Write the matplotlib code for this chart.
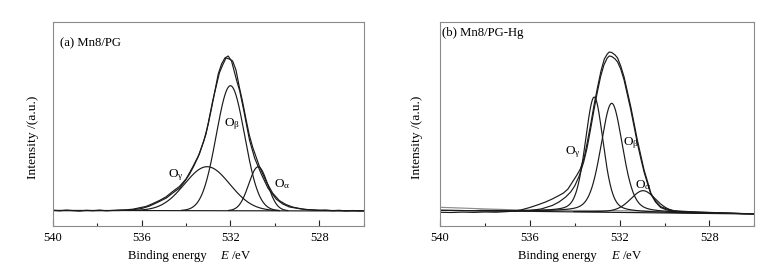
import numpy as np
import matplotlib
matplotlib.use("Agg")
import matplotlib.pyplot as plt

plt.rcParams['font.family'] = ['Liberation Serif', 'DejaVu Serif']
plt.rcParams['mathtext.fontset'] = 'custom'
plt.rcParams['mathtext.rm'] = 'Liberation Serif'
plt.rcParams['mathtext.it'] = 'Liberation Serif:italic'

# ---------------- data (a) Mn8/PG ----------------
a_title = "(a) Mn8/PG"
a_peak_labels = ["O$_{\\mathrm{γ}}$", "O$_{\\mathrm{β}}$", "O$_{\\mathrm{α}}$"]
a_peak_center = [533.05, 532.0, 530.75]
a_peak_height = [44, 125, 44]
a_peak_fwhm = [2.4, 1.5, 1.0]
a_peak_eta = [0.0, 0.0, 0.0]

a_fit_E = [540, 538, 537, 536.5, 536, 535.64, 535.3, 534.89, 534.6, 534.29, 534.05, 533.84,
           533.65, 533.46, 533.2, 533.0, 532.85, 532.7, 532.55, 532.4, 532.25, 532.1, 531.95,
           531.82, 531.7, 531.58, 531.43, 531.29, 531.14, 530.91, 530.61, 530.31, 529.94,
           529.64, 529.34, 528.8, 528.29, 527.5, 526]
a_fit_I = [0.3, 0.3, 0.5, 1, 2.5, 5, 8.5, 13, 18, 23, 30, 37, 45, 54, 70, 87, 103, 120, 137,
           147, 153, 155, 150, 139, 129, 120, 104, 88, 71, 53, 37, 23, 12, 7, 4, 2, 1, 0.5, 0.2]

a_raw_E = [540.0, 539.7, 539.4, 539.1, 538.8, 538.5, 538.2, 537.9, 537.6, 537.3, 537.0, 536.7,
           536.4, 536.1, 535.8, 535.5, 535.2, 534.9, 534.6, 534.3, 534.0, 533.7, 533.4, 533.1,
           532.8, 532.5, 532.35, 532.2, 532.05, 531.9, 531.75, 531.6, 531.45, 531.3, 531.15,
           531.0, 530.7, 530.4, 530.1, 529.8, 529.5, 529.2, 528.9, 528.6, 528.3, 528.0, 527.7,
           527.4, 527.1, 526.8, 526.5, 526.2, 526.0]
a_raw_I = [0.8, 0.2, 0.9, 0.4, -0.1, 0.7, 0.3, 0.9, 0.2, 0.6, 1.0, 1.2, 1.8, 3.2, 4.6, 7.4,
           10.5, 14.2, 19.6, 24.5, 32, 44, 57, 77, 110, 138, 146, 153, 152, 150, 141, 124,
           109, 92, 76, 64, 45, 30, 18, 10.5, 6.5, 4, 2.6, 1.4, 1.2, 0.6, 0.9, 0.3, 0.7, 0.1,
           0.5, 0.2, 0.4]
a_bg_E = [540, 526]
a_bg_I = [0.6, 0.0]

# ---------------- data (b) Mn8/PG-Hg ----------------
b_title = "(b) Mn8/PG-Hg"
b_peak_labels = ["O$_{\\mathrm{γ}}$", "O$_{\\mathrm{β}}$", "O$_{\\mathrm{α}}$"]
b_peak_center = [533.13, 532.35, 530.95]
b_peak_height = [115, 109, 22]
b_peak_fwhm = [0.95, 1.15, 1.35]
b_peak_eta = [0.3, 0.3, 0.3]

b_base_E = [540, 526]
b_base_I = [3.7, 0.0]

b_bg_E = [540, 539, 538, 537, 536.5, 536, 534, 532, 531, 530, 529, 528, 527, 526]
b_bg_I = [6.7, 5.9, 5.1, 4.4, 4.0, 3.8, 3.5, 3.3, 3.0, 2.5, 1.8, 1.2, 0.6, 0.0]

b_raw_E = [540, 539.5, 539, 538.5, 538, 537.5, 537, 536.7, 536.4, 536.0, 535.6, 535.3, 535.0,
           534.7, 534.5, 534.3, 534.1, 533.9, 533.75, 533.57, 533.42, 533.27, 533.13, 532.98,
           532.83, 532.68, 532.55, 532.46, 532.35, 532.2, 532.09, 531.95, 531.8, 531.65, 531.5,
           531.35, 531.21, 531.05, 530.91, 530.75, 530.61, 530.4, 530.17, 529.9, 529.58, 529,
           528.5, 528, 527.5, 527, 526.5, 526]
b_raw_I = [1.7, 1.5, 1.9, 1.6, 2.0, 1.8, 2.4, 3.0, 4.0, 6.5, 9.5, 12, 15, 18.5, 21, 25, 32,
           39, 45, 57, 74, 92, 110, 127, 143, 155, 160, 162, 161.5, 159, 156, 148, 137, 122,
           107, 90, 74, 58, 44, 32, 21, 13, 7.3, 5, 3.3, 2.5, 2, 1.6, 1.2, 0.8, 0.4, 0]

b_fit_E = [540, 538, 537, 536.5, 536, 535.5, 535, 534.7, 534.4, 534.18, 534.0, 533.8, 533.6,
           533.45, 533.3, 533.15, 533.0, 532.85, 532.7, 532.55, 532.46, 532.35, 532.2, 532.09,
           531.95, 531.8, 531.65, 531.5, 531.35, 531.21, 531.05, 530.91, 530.75, 530.61, 530.4,
           530.17, 529.9, 529.58, 529, 528, 527, 526]
b_fit_I = [3.7, 3.2, 3.0, 2.9, 3.5, 5, 8.5, 12, 17, 22, 28, 38, 52, 66, 84, 103, 121, 137,
           149, 156, 158, 157.5, 155, 152, 145, 134, 119, 104, 87, 71, 55, 42, 30, 20, 12,
           6.5, 4, 2.8, 2.1, 1.4, 0.7, 0]

x_ticks = [540, 536, 532, 528]
x_minor = [538, 534, 530, 526]
x_label_1 = "Binding energy"
x_label_2 = "$E$ /eV"
y_label = "Intensity /(a.u.)"


def pv(E, c, h, w, eta):
    g = np.exp(-4 * np.log(2) * ((E - c) / w) ** 2)
    l = 1.0 / (1 + (2 * (E - c) / w) ** 2)
    return h * ((1 - eta) * g + eta * l)


W, H = 775, 270
fig = plt.figure(figsize=(W / 100, H / 100), dpi=100)

LC = '#1a1a1a'
LW = 0.85
FS_T = 9.0     # tick labels
FS_L = 9.2     # axis labels / titles
FS_P = 9.5     # peak labels


def style(ax):
    for s in ax.spines.values():
        s.set_color('#8a8a8a')
        s.set_linewidth(0.8)
    ax.set_xlim(540, 526)
    ax.set_xticks(x_ticks)
    ax.set_xticks(x_minor, minor=True)
    ax.set_xticklabels([str(t) for t in x_ticks], fontsize=FS_T)
    ax.tick_params(axis='x', which='major', direction='in', length=4, width=0.8,
                   color='#222222', pad=4, top=False)
    ax.tick_params(axis='x', which='minor', direction='in', length=2.5, width=0.8,
                   color='#222222', top=False)
    ax.set_yticks([])


def px(x, y):
    return x / W, 1 - y / H


# ---- panel (a)
axa = fig.add_axes([53 / W, 1 - 226 / H, 310.5 / W, 204 / H])
style(axa)
axa.set_ylim(-15, 189)
Eg = np.linspace(540, 526, 1400)
bga = np.interp(Eg, a_bg_E[::-1], a_bg_I[::-1])
axa.plot(a_bg_E, a_bg_I, color=LC, lw=LW)
for c, h, w, e in zip(a_peak_center, a_peak_height, a_peak_fwhm, a_peak_eta):
    comp = pv(Eg, c, h, w, e)
    m = comp > 0.3
    axa.plot(Eg[m], comp[m] + bga[m], color=LC, lw=LW)
axa.plot(a_raw_E, a_raw_I, color=LC, lw=LW)
axa.plot(a_fit_E, a_fit_I, color=LC, lw=LW)

fig.text(*px(60, 43), a_title, fontsize=FS_L, ha='left', va='center')
fig.text(*px(176, 175), a_peak_labels[0], fontsize=FS_P, ha='center', va='center')
fig.text(*px(232, 124), a_peak_labels[1], fontsize=FS_P, ha='center', va='center')
fig.text(*px(282, 184), a_peak_labels[2], fontsize=FS_P, ha='center', va='center')
fig.text(*px(33, 137), y_label, fontsize=FS_L + 0.5, rotation=90, ha='center', va='center')
fig.text(*px(128, 256), x_label_1, fontsize=FS_L, ha='left', va='center')
fig.text(*px(220, 256), x_label_2, fontsize=FS_L, ha='left', va='center')

# ---- panel (b)
axb = fig.add_axes([440 / W, 1 - 226 / H, 314.3 / W, 204 / H])
style(axb)
axb.set_ylim(-12, 192)
baseb = np.interp(Eg, b_base_E[::-1], b_base_I[::-1])
axb.plot(b_bg_E, b_bg_I, color='#8c8c8c', lw=LW)
axb.plot(b_base_E, b_base_I, color=LC, lw=LW)
for c, h, w, e in zip(b_peak_center, b_peak_height, b_peak_fwhm, b_peak_eta):
    comp = pv(Eg, c, h, w, e)
    m = comp > 0.3
    axb.plot(Eg[m], comp[m] + baseb[m], color=LC, lw=LW)
axb.plot(b_raw_E, b_raw_I, color=LC, lw=LW)
axb.plot(b_fit_E, b_fit_I, color=LC, lw=LW)

fig.text(*px(442, 33), b_title, fontsize=FS_L, ha='left', va='center')
fig.text(*px(573, 152), b_peak_labels[0], fontsize=FS_P, ha='center', va='center')
fig.text(*px(631, 143), b_peak_labels[1], fontsize=FS_P, ha='center', va='center')
fig.text(*px(643, 185), b_peak_labels[2], fontsize=FS_P, ha='center', va='center')
fig.text(*px(417, 137), y_label, fontsize=FS_L + 0.5, rotation=90, ha='center', va='center')
fig.text(*px(518, 256), x_label_1, fontsize=FS_L, ha='left', va='center')
fig.text(*px(611, 256), x_label_2, fontsize=FS_L, ha='left', va='center')

fig.savefig("out.png", dpi=100)
